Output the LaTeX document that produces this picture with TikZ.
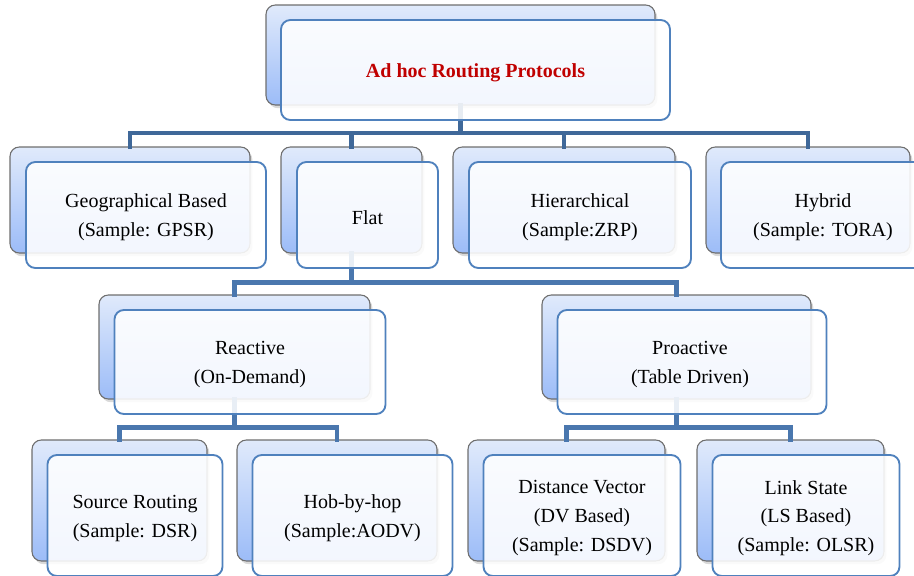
\documentclass[tikz,border=0pt]{standalone}
\usepackage{fontspec}
\setmainfont{Liberation Serif}
\usetikzlibrary{shadows}
\definecolor{backtop}{HTML}{E0EAFB}
\definecolor{backbot}{HTML}{9CBCF8}
\definecolor{backline}{HTML}{6E6E6E}
\definecolor{frontline}{HTML}{4F81BD}
\definecolor{linkdark}{HTML}{3F6899}
\definecolor{linkmid}{HTML}{4A77AE}
\definecolor{titlered}{HTML}{C00000}
\begin{document}
\begin{tikzpicture}[x=0.75pt,y=-0.75pt,
  sz/.style 2 args={minimum width=#1*0.75pt, minimum height=#2*0.75pt},
  backbox/.style={draw=backline, line width=0.8pt, rounded corners=7pt,
    top color=backtop, bottom color=backbot, inner sep=0pt,
    drop shadow={opacity=0.3, shadow xshift=1.8pt, shadow yshift=-2.4pt}},
  frontbox/.style={draw=frontline, line width=1.4pt, rounded corners=7pt,
    fill=white, fill opacity=0.88, inner sep=0pt},
  lbl/.style={inner sep=0pt, align=center, font=\fontsize{15}{21.6}\selectfont},
  conn/.style={line width=3.4pt, line cap=rect, line join=miter},
]
\useasboundingbox (0,0) rectangle (914,575);
\clip (0,0) rectangle (914,575);

% back layer of every box
\node[backbox, sz={389}{100}] (top-b)  at (460.5,55) {};
\node[backbox, sz={240}{106}] (geo-b)  at (130,200) {};
\node[backbox, sz={141}{106}] (flat-b) at (351.5,200) {};
\node[backbox, sz={222}{106}] (hier-b) at (564,200) {};
\node[backbox, sz={204}{106}] (hyb-b)  at (808,200) {};
\node[backbox, sz={271}{104}] (reac-b) at (234.5,347) {};
\node[backbox, sz={269}{104}] (proa-b) at (676.5,347) {};
\node[backbox, sz={175}{121}] (src-b)  at (119.5,500.5) {};
\node[backbox, sz={200}{121}] (hob-b)  at (337,500.5) {};
\node[backbox, sz={197}{121}] (dv-b)   at (566.5,500.5) {};
\node[backbox, sz={187}{121}] (ls-b)   at (790.5,500.5) {};

% levels of the connector bars
\coordinate (bar1) at (0,133);
\coordinate (bar2) at (0,282.5);
\coordinate (bar3) at (0,427.5);

% tree connectors
\foreach \c in {geo-b,flat-b,hier-b,hyb-b}
  \draw[conn, linkdark] (top-b.south) -- (top-b.south |- bar1) -| (\c.north);
\foreach \c in {reac-b,proa-b}
  \draw[conn, linkmid] (flat-b.south) -- (flat-b.south |- bar2) -| (\c.north);
\foreach \c in {src-b,hob-b}
  \draw[conn, linkmid] (reac-b.south) -- (reac-b.south |- bar3) -| (\c.north);
\foreach \c in {dv-b,ls-b}
  \draw[conn, linkmid] (proa-b.south) -- (proa-b.south |- bar3) -| (\c.north);

% front layer
\node[frontbox, sz={389}{100}] (top)  at (475.5,70) {};
\node[frontbox, sz={240}{106}] (geo)  at (146,215) {};
\node[frontbox, sz={141}{106}] (flat) at (367.5,215) {};
\node[frontbox, sz={222}{106}] (hier) at (580,215) {};
\node[frontbox, sz={204}{106}] (hyb)  at (823,215) {};
\node[frontbox, sz={271}{104}] (reac) at (250,362) {};
\node[frontbox, sz={269}{104}] (proa) at (692,362) {};
\node[frontbox, sz={175}{121}] (src)  at (135,515.5) {};
\node[frontbox, sz={200}{121}] (hob)  at (352.5,515.5) {};
\node[frontbox, sz={197}{121}] (dv)   at (582,515.5) {};
\node[frontbox, sz={187}{121}] (ls)   at (806,515.5) {};

% labels
\node[lbl] (top-t)  at ([yshift=-2pt]top.center)
  {\textcolor{titlered}{\textbf{Ad hoc Routing Protocols}}};
\node[lbl] (geo-t)  at ([yshift=-1.8pt]geo.center)  {Geographical Based\\(Sample: GPSR)};
\node[lbl] (flat-t) at ([yshift=-1.8pt]flat.center) {Flat};
\node[lbl] (hier-t) at ([yshift=-1.8pt]hier.center) {Hierarchical\\(Sample:ZRP)};
\node[lbl] (hyb-t)  at ([yshift=-1.8pt]hyb.center)  {Hybrid\\(Sample: TORA)};
\node[lbl] (reac-t) at ([yshift=-2pt]reac.center) {Reactive\\(On-Demand)};
\node[lbl] (proa-t) at ([xshift=-1.5pt,yshift=-2pt]proa.center) {Proactive\\(Table Driven)};
\node[lbl] (src-t)  at ([yshift=-2pt]src.center)  {Source Routing\\(Sample: DSR)};
\node[lbl] (hob-t)  at ([yshift=-2pt]hob.center)  {Hob-by-hop\\(Sample:AODV)};
\node[lbl] (dv-t)   at ([yshift=-1.9pt]dv.center)   {Distance Vector\\(DV Based)\\(Sample: DSDV)};
\node[lbl] (ls-t)   at ([yshift=-1.9pt]ls.center)   {Link State\\(LS Based)\\(Sample: OLSR)};
\end{tikzpicture}
\end{document}
